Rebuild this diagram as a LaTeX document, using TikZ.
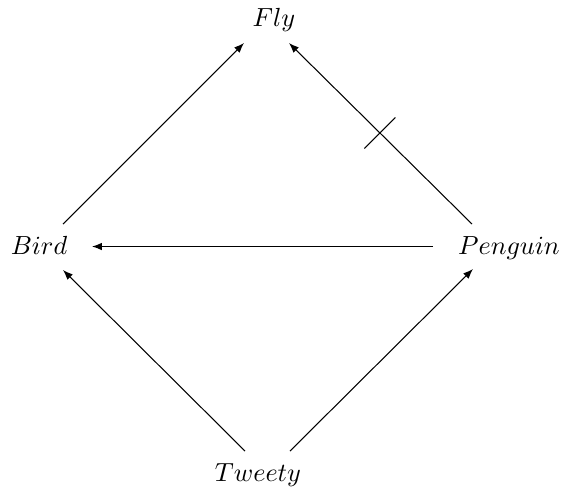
\documentclass[tikz,border=0pt]{standalone}
\usetikzlibrary{arrows.meta,calc}
\begin{document}
\begin{tikzpicture}[x=0.3817pt,y=-0.3817pt,
  lbl/.style={inner sep=0pt,anchor=base},
  arr/.style={line width=0.4pt,-{Latex[length=3.8pt,width=2.9pt]}},
  tickline/.style={line width=0.4pt}]
\useasboundingbox (0,0) rectangle (562,496);
\node[lbl] (fly) at (274,26) {$Fly$};
\node[lbl] (bird) at (39,254) {$Bird$};
\node[lbl] (penguin) at (509,254) {$Penguin$};
\node[lbl] (tweety) at (258,481.5) {$Tweety$};
% Bird -> Fly
\draw[arr] ([shift={(24,-30)}]bird.base) -- ([shift={(-30,17)}]fly.base);
% Penguin -> Fly (with tick)
\draw[arr] ([shift={(-37,-30)}]penguin.base) -- coordinate[pos=0.503] (tk) ([shift={(15,17)}]fly.base);
\draw[tickline] ($(tk)+(-15.5,15.5)$) -- ($(tk)+(15.5,-15.5)$);
% Penguin -> Bird
\draw[arr] ([shift={(-76,-7.5)}]penguin.base) -- ([shift={(53,-7.5)}]bird.base);
% Tweety -> Bird
\draw[arr] ([shift={(-13,-30.5)}]tweety.base) -- ([shift={(24,16)}]bird.base);
% Tweety -> Penguin
\draw[arr] ([shift={(32,-30.5)}]tweety.base) -- ([shift={(-36,15)}]penguin.base);
\end{tikzpicture}
\end{document}
